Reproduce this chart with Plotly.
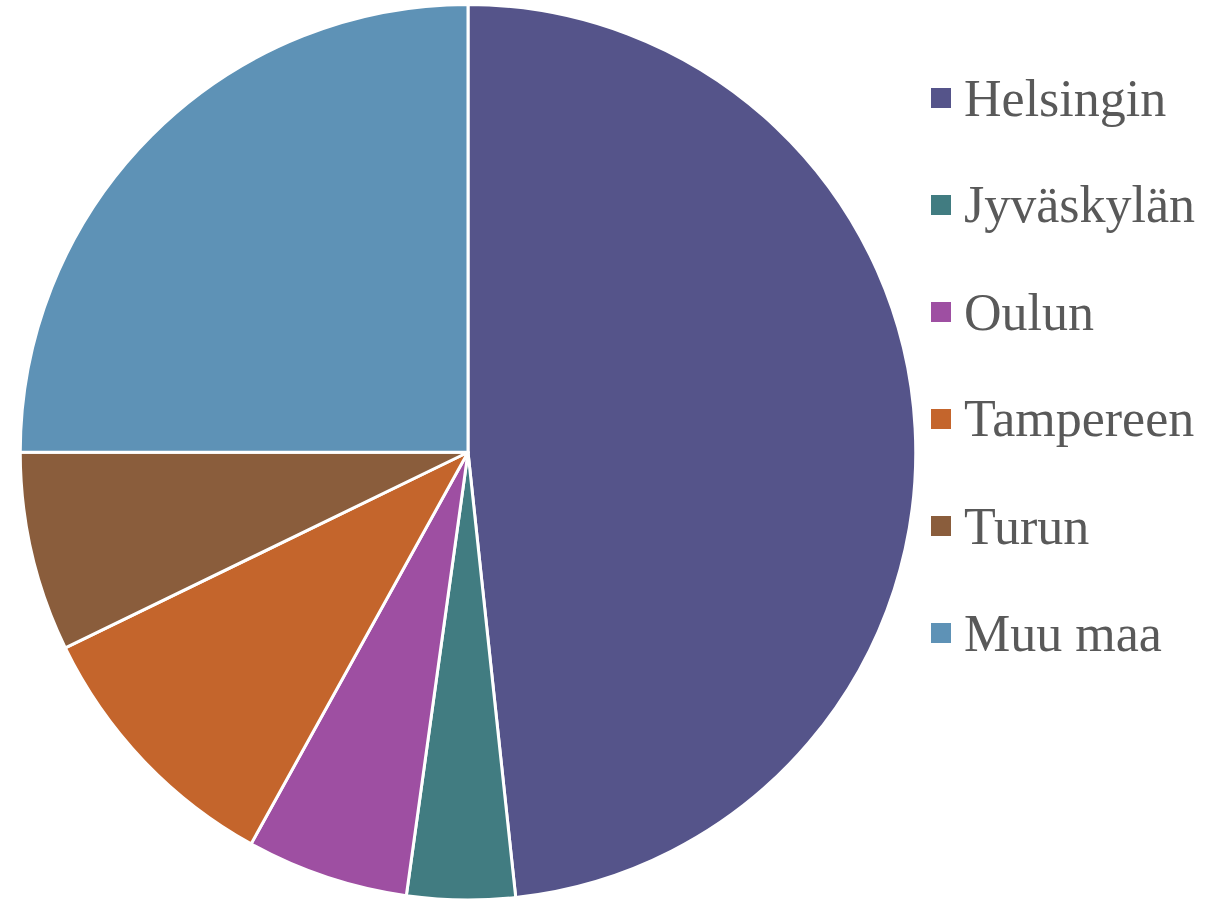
import plotly.graph_objects as go

labels = ["Helsingin", "Jyväskylän", "Oulun", "Tampereen", "Turun", "Muu maa"]
values = [48.3, 3.9, 5.85, 9.75, 7.2, 25.0]
colors = ["#55548a", "#417c81", "#9e4fa2", "#c4652c", "#8a5d3c", "#5e92b6"]

W, H = 1231, 900

fig = go.Figure(go.Pie(
    labels=labels,
    values=values,
    sort=False,
    direction="clockwise",
    rotation=0,
    textinfo="none",
    hoverinfo="label+percent",
    marker=dict(colors=colors, line=dict(color="white", width=3)),
    domain=dict(x=[20 / W, 916 / W], y=[0, 0.995]),
    showlegend=False,
))

# legend built from the label/colour arrays
y_first, step = 98, 107
for i, (lab, col) in enumerate(zip(labels, colors)):
    yc = y_first + i * step
    fig.add_shape(type="rect", xref="paper", yref="paper",
                  x0=931 / W, x1=951 / W,
                  y0=1 - (yc + 10) / H, y1=1 - (yc - 10) / H,
                  fillcolor=col, line=dict(width=0))
    fig.add_annotation(xref="paper", yref="paper", x=962 / W, y=1 - yc / H,
                       xanchor="left", yanchor="middle", showarrow=False,
                       text=lab, font=dict(family="Liberation Serif", size=52, color="#595959"))

fig.update_layout(
    width=W, height=H,
    margin=dict(l=0, r=0, t=0, b=0),
    paper_bgcolor="white", plot_bgcolor="white",
)

fig.write_html("out.html")
